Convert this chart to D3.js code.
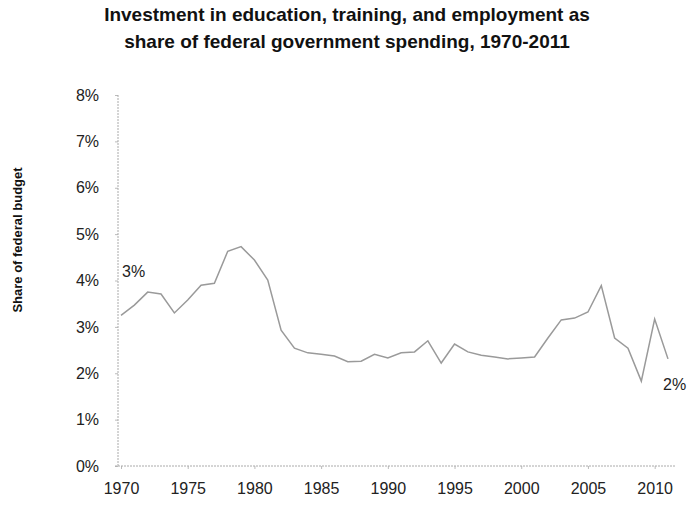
<!DOCTYPE html>
<html>
    <head>
        <title> Education spending share </title>
        <script src="https://d3js.org/d3.v7.min.js" charset="utf-8"></script>
        <style>
        body{
            margin: 0;
            background: white;
            font-family: "Liberation Sans", "Open Sans", sans-serif;
        }
        .title {
            font-weight: bold;
            font-size: 19px;
            fill: #111;
        }
        .tick text {
            font-size: 16px;
            fill: #222;
        }
        </style>
    </head>
    <body>
        <script>
            //size of graphic
            var width = 693;
            var height = 506;

            //years and share of federal budget (%)
            var years = d3.range(1970, 2012);
            var shares = [3.25, 3.47, 3.75, 3.71, 3.30, 3.58, 3.90, 3.94, 4.63, 4.73,
                          4.44, 4.01, 2.93, 2.54, 2.44, 2.41, 2.37, 2.25, 2.26, 2.41,
                          2.33, 2.44, 2.46, 2.70, 2.22, 2.63, 2.46, 2.39, 2.35, 2.31,
                          2.33, 2.35, 2.76, 3.15, 3.19, 3.32, 3.89, 2.76, 2.54, 1.83,
                          3.17, 2.31];
            //tick labels
            var xTicks = [1970, 1975, 1980, 1985, 1990, 1995, 2000, 2005, 2010];
            var yTicks = [0, 1, 2, 3, 4, 5, 6, 7, 8];
            var titleLines = ["Investment in education, training, and employment as",
                              "share of federal government spending, 1970-2011"];

            var data = years.map(function(y, i){ return {year: y, value: shares[i]}; });

            var svg = d3.select("body")
            .append("svg")
            .attr("width", width)
            .attr("height", height);

            //scales
            var x = d3.scaleLinear().domain([1970, 2011]).range([121, 668]);
            var y = d3.scaleLinear().domain([0, 8]).range([466, 95]);

            //title
            svg.selectAll(".title")
            .data(titleLines)
            .enter()
            .append("text")
            .attr("class", "title")
            .attr("x", 347)
            .attr("y", function(d, i){ return 21 + i * 27; })
            .attr("text-anchor", "middle")
            .text(function(d){ return d; });

            //y axis
            svg.append("g")
            .attr("transform", "translate(118,0)")
            .call(d3.axisLeft(y).tickValues(yTicks).tickSize(3).tickPadding(16)
                .tickFormat(function(d){ return d + "%"; }));

            //x axis
            svg.append("g")
            .attr("transform", "translate(0,466)")
            .call(d3.axisBottom(x).tickValues(xTicks).tickSize(3).tickPadding(14)
                .tickFormat(d3.format("d")));

            svg.selectAll(".domain").remove();
            //light dotted axis lines
            svg.append("line")
            .attr("x1", 118).attr("x2", 118)
            .attr("y1", y(8)).attr("y2", y(0))
            .attr("stroke", "#aaa").attr("stroke-width", 1)
            .attr("stroke-dasharray", "2,1");
            svg.append("line")
            .attr("x1", 115).attr("x2", 676)
            .attr("y1", y(0)).attr("y2", y(0))
            .attr("stroke", "#aaa").attr("stroke-width", 1)
            .attr("stroke-dasharray", "2,1");
            svg.selectAll(".tick line").attr("stroke", "#bbb");

            //axis title
            svg.append("text")
            .attr("transform", "translate(22,240) rotate(-90)")
            .attr("text-anchor", "middle")
            .attr("font-weight", "bold")
            .attr("font-size", "13px")
            .attr("fill", "#111")
            .text("Share of federal budget");

            //line
            var line = d3.line()
            .x(function(d){ return x(d.year); })
            .y(function(d){ return y(d.value); });

            svg.append("path")
            .datum(data)
            .attr("fill", "none")
            .attr("stroke", "#9a9a9a")
            .attr("stroke-width", 1.5)
            .attr("d", line);

            //end labels
            svg.append("text")
            .attr("x", x(1970) + 1)
            .attr("y", 277)
            .attr("font-size", "16px")
            .attr("fill", "#222")
            .text("3%");
            svg.append("text")
            .attr("x", x(2011) - 5)
            .attr("y", 390)
            .attr("font-size", "16px")
            .attr("fill", "#222")
            .text("2%");
        </script>
    </body>
</html>
